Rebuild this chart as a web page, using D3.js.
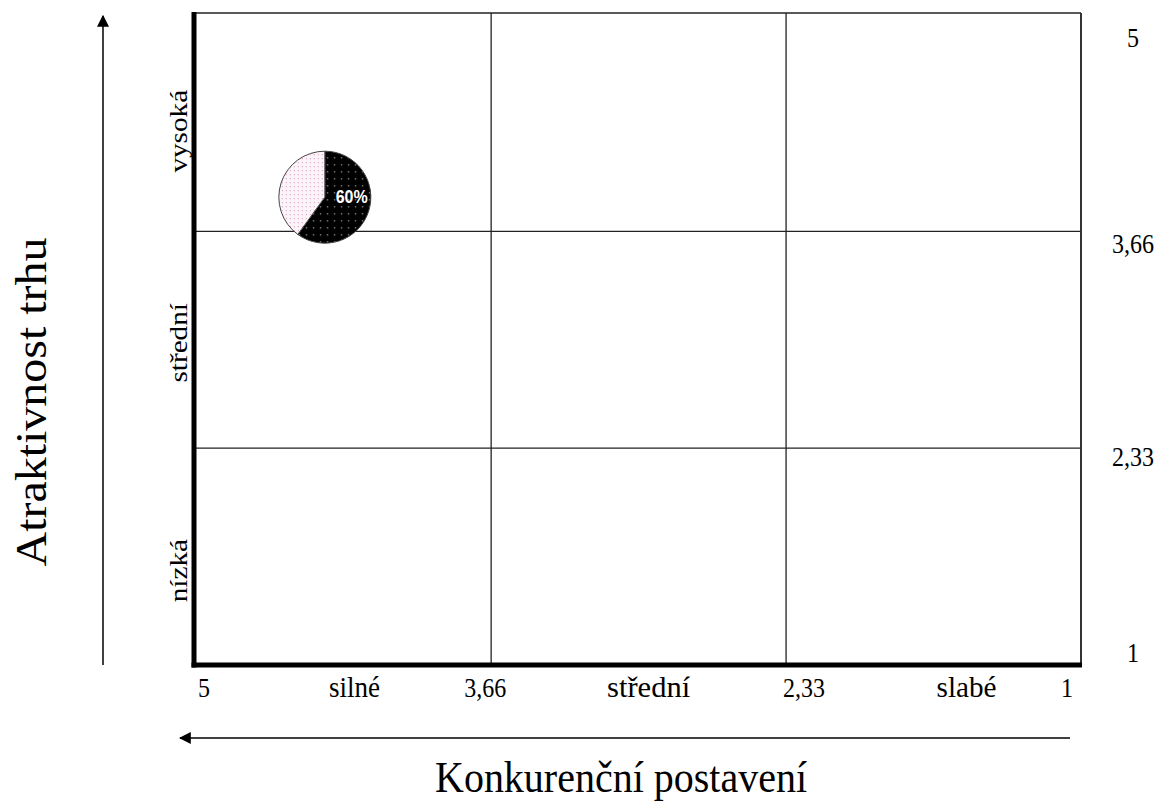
<!DOCTYPE html>
<html>
<head>
<meta charset="utf-8">
<script src="https://cdn.jsdelivr.net/npm/d3@7"></script>
<style>
  html, body { margin: 0; padding: 0; background: #fff; }
  svg { display: block; }
  text { font-family: "Liberation Serif", "Times New Roman", serif; fill: #000; }
</style>
</head>
<body>
<svg id="chart" width="1158" height="803"></svg>
<script>
// GE / McKinsey matrix: market attractiveness vs. competitive position

// Axis break values (scores 1–5)
const xBreaks = [5, 3.66, 2.33, 1];
const yBreaks = [5, 3.66, 2.33, 1];
const xTickLabels = ["5", "3,66", "2,33", "1"];
const yTickLabels = ["5", "3,66", "2,33", "1"];

// Zone names
const xZones = ["silné", "střední", "slabé"];
const yZones = ["vysoká", "střední", "nízká"];

// Business unit plotted as a pie
const unitX = [4.41];
const unitY = [3.87];
const unitShare = [60];           // percent shown dark
const unitLabels = ["60%"];

const xTitle = "Konkurenční postavení";
const yTitle = "Atraktivnost trhu";

// ---- layout ----
const svg = d3.select("#chart");
const plot = { left: 194, right: 1081, top: 13, bottom: 665 };
const SY = 1.17; // vertical stretch of lettering

const x = d3.scaleLinear().domain([5, 1]).range([plot.left, plot.right]);
const y = d3.scaleLinear().domain([1, 5]).range([plot.bottom, plot.top]);

// zone centres
const zoneCentreX = [0, 1, 2].map(i => (x(xBreaks[i]) + x(xBreaks[i + 1])) / 2);
const zoneCentreY = [0, 1, 2].map(i => (y(yBreaks[i]) + y(yBreaks[i + 1])) / 2);

// small label nudges
const xTickNudge = [10, -6, 18, -14];
const xZoneNudge = [12, 10, 33];
const yTickBaseline = [34, 22, 18, -3];
const yZoneNudge = [9, 3, 14];

// helpers for stretched text
function hText(g, str, px, py, size, anchor, opts = {}) {
  const t = g.append("text")
    .attr("transform", `translate(${px},${py}) scale(1,${opts.sy || SY})`)
    .attr("text-anchor", anchor)
    .style("font-size", size + "px")
    .text(str);
  if (opts.len) t.attr("textLength", opts.len).attr("lengthAdjust", "spacingAndGlyphs");
  if (opts.family) t.style("font-family", opts.family);
  if (opts.weight) t.style("font-weight", opts.weight);
  if (opts.fill) t.style("fill", opts.fill);
  return t;
}
function vText(g, str, px, py, size, stretch) {
  return g.append("text")
    .attr("transform", `translate(${px},${py}) rotate(-90) scale(${stretch},1)`)
    .attr("text-anchor", "middle")
    .style("font-size", size + "px")
    .text(str);
}

// ---- patterns for the pie ----
const defs = svg.append("defs");
const pDark = defs.append("pattern").attr("id", "darkDots")
  .attr("patternUnits", "userSpaceOnUse").attr("width", 7).attr("height", 7);
pDark.append("rect").attr("width", 7).attr("height", 7).attr("fill", "#000");
pDark.append("rect").attr("x", 2).attr("y", 2).attr("width", 1.3).attr("height", 1.3).attr("fill", "#9a9a9a");

const pLight = defs.append("pattern").attr("id", "lightDots")
  .attr("patternUnits", "userSpaceOnUse").attr("width", 4).attr("height", 4);
pLight.append("rect").attr("width", 4).attr("height", 4).attr("fill", "#fbf4f8");
pLight.append("rect").attr("x", 1).attr("y", 1).attr("width", 1).attr("height", 1).attr("fill", "#d48fb8");

// ---- grid ----
const grid = svg.append("g");
grid.selectAll("line.v").data(xBreaks.slice(1, 3)).join("line")
  .attr("x1", d => x(d)).attr("x2", d => x(d))
  .attr("y1", plot.top).attr("y2", plot.bottom)
  .attr("stroke", "#222").attr("stroke-width", 1.3);
grid.selectAll("line.h").data(yBreaks.slice(1, 3)).join("line")
  .attr("x1", plot.left).attr("x2", plot.right)
  .attr("y1", d => y(d)).attr("y2", d => y(d))
  .attr("stroke", "#222").attr("stroke-width", 1.3);

// frame: thin top/right, heavy left/bottom
grid.append("line").attr("x1", plot.left).attr("x2", plot.right)
  .attr("y1", plot.top).attr("y2", plot.top).attr("stroke", "#222").attr("stroke-width", 1.5);
grid.append("line").attr("x1", plot.right).attr("x2", plot.right)
  .attr("y1", plot.top).attr("y2", plot.bottom).attr("stroke", "#333").attr("stroke-width", 2);
grid.append("line").attr("x1", plot.left).attr("x2", plot.left)
  .attr("y1", plot.top - 1).attr("y2", plot.bottom + 2.5).attr("stroke", "#000").attr("stroke-width", 5);
grid.append("line").attr("x1", plot.left - 2.5).attr("x2", plot.right + 1)
  .attr("y1", plot.bottom).attr("y2", plot.bottom).attr("stroke", "#000").attr("stroke-width", 5);

// ---- labels along the bottom ----
const lab = svg.append("g");
const bottomBase = 697;
xBreaks.forEach((v, i) => hText(lab, xTickLabels[i], x(v) + xTickNudge[i], bottomBase, 24, "middle"));
const xZoneLen = [51, 83, 60];
xZones.forEach((s, i) => hText(lab, s, zoneCentreX[i] + xZoneNudge[i], bottomBase, 25, "middle", { len: xZoneLen[i] }));

// ---- labels on the right ----
yBreaks.forEach((v, i) => hText(lab, yTickLabels[i], 1133, y(v) + yTickBaseline[i], 24, "middle"));

// ---- zone labels on the left (rotated) ----
yZones.forEach((s, i) => vText(lab, s, 187, zoneCentreY[i] + yZoneNudge[i], 25, SY));

// ---- arrows ----
const arrows = svg.append("g");
defs.append("marker").attr("id", "head")
  .attr("viewBox", "0 0 10 10").attr("refX", 9).attr("refY", 5)
  .attr("markerUnits", "userSpaceOnUse")
  .attr("markerWidth", 12).attr("markerHeight", 12)
  .attr("orient", "auto")
  .append("path").attr("d", "M0,0 L10,5 L0,10 Z").attr("fill", "#000");
arrows.append("line").attr("x1", 103).attr("x2", 103)
  .attr("y1", plot.bottom).attr("y2", 16)
  .attr("stroke", "#000").attr("stroke-width", 1.5).attr("marker-end", "url(#head)");
arrows.append("line").attr("x1", 1070).attr("x2", 180)
  .attr("y1", 738).attr("y2", 738)
  .attr("stroke", "#000").attr("stroke-width", 1.5).attr("marker-end", "url(#head)");

// ---- axis titles ----
hText(lab, xTitle, 621, 792, 40, "middle", { sy: 1.12 });
vText(lab, yTitle, 46, 402, 44, 1.09);

// ---- business unit pie ----
const pieR = 46;
const pie = d3.pie().sort(null).value(d => d);
const arc = d3.arc().innerRadius(0).outerRadius(pieR);
unitX.forEach((ux, k) => {
  const g = svg.append("g").attr("transform", `translate(${x(ux)},${y(unitY[k])})`);
  const slices = pie([unitShare[k], 100 - unitShare[k]]);
  g.selectAll("path").data(slices).join("path")
    .attr("d", arc)
    .attr("fill", (d, i) => i === 0 ? "url(#darkDots)" : "url(#lightDots)")
    .attr("stroke", "#444").attr("stroke-width", 1);
  const c = arc.centroid(slices[0]);
  hText(g, unitLabels[k], c[0] + 5, 6, 16, "middle",
    { family: "'Liberation Sans', Arial, sans-serif", weight: "bold", fill: "#fff" });
});
</script>
</body>
</html>
